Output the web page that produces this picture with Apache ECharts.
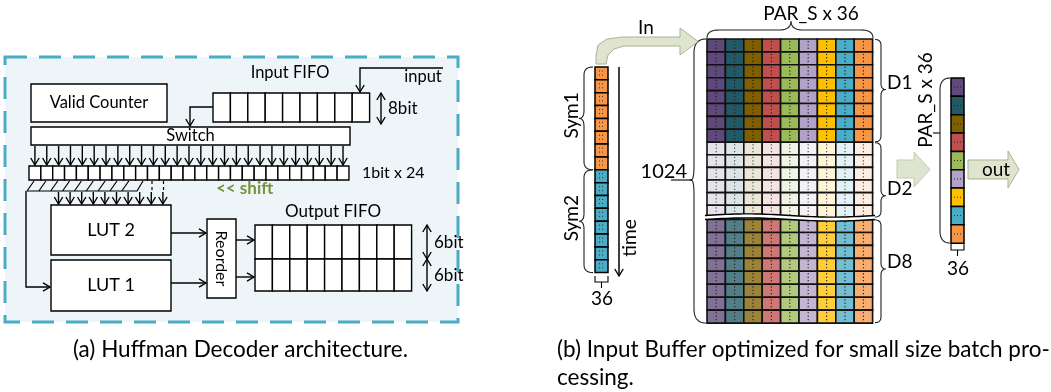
<!DOCTYPE html>
<html><head><meta charset="utf-8">
<script src="https://cdn.jsdelivr.net/npm/echarts@6/dist/echarts.min.js"></script>
<style>html,body{margin:0;padding:0;background:#fff}#main{width:1051px;height:392px}</style>
</head><body><div id="main"></div>
<script>
// ================= DATA =================
const blockNames = ['Valid Counter', 'Switch', 'LUT 2', 'LUT 1', 'Reorder'];
const inputFifoSlots = 9;
const registerBits = 27;          // cells drawn in the "1bit x 24" shift register
const lutFeedBits = 10;
const outputFifoRows = ['6bit', '6bit'];
const outputFifoSlots = 9;
const leftLabels = ['Input FIFO', 'input', '8bit', '1bit x 24', '<< shift', 'Output FIFO'];
const lanes = [0, 1, 2, 3, 4, 5, 6, 7, 8];       // PAR_S x 36 lanes
const sectionNames = ['D1', 'D2', 'D8'];
const sectionRows = [8, 6, 8];
const symNames = ['Sym1', 'Sym2'];
const symRows = [8, 8];
const bufferDepth = '1024';
const laneWidthLabel = 'PAR_S x 36';
const bitsLabel = '36';
const flowLabels = ['In', 'out', 'time'];
const captions = ['(a) Huffman Decoder architecture.', '(b) Input Buffer optimized for small size batch pro-', 'cessing.'];

// ================= STYLE / LAYOUT =================
const laneColors = ['#5f497a', '#215967', '#7f6000', '#c0504d', '#9bbb59', '#b3a2c7', '#ffc000', '#4bacc6', '#f79646'];
const symColors = ['#f79646', '#4bacc6'];
const sectionTone = [1, 0.16, 0.78];
const FONT = 'Lato, "Open Sans", sans-serif';
const CAPFONT = 'Lato, "Open Sans", sans-serif';

let API = null;
const C = (x, y) => API.coord([x, y]);
function R(x, y, w, h, st) { const a = C(x, y), b = C(x + w, y + h); return { type: 'rect', shape: { x: a[0], y: a[1], width: b[0] - a[0], height: b[1] - a[1] }, style: Object.assign({ fill: '#fff', stroke: '#000', lineWidth: 1.4 }, st) }; }
function L(pts, st) { return { type: 'polyline', shape: { points: pts.map(p => C(p[0], p[1])) }, style: Object.assign({ fill: null, stroke: '#000', lineWidth: 1.4 }, st) }; }
function PG(pts, st) { return { type: 'polygon', shape: { points: pts.map(p => C(p[0], p[1])) }, style: st }; }
function T(x, y, text, st, rot) { const a = C(x, y); return { type: 'text', x: a[0], y: a[1], rotation: rot || 0, style: Object.assign({ text, fill: '#000', font: '16px ' + FONT, textAlign: 'center', textVerticalAlign: 'middle', align: 'center', verticalAlign: 'middle' }, st) }; }
function head(x, y, dx, dy, s) { const l = s || 7, w = l * 0.6, px = -dy, py = dx; return L([[x - dx * l + px * w, y - dy * l + py * w], [x, y], [x - dx * l - px * w, y - dy * l - py * w]]); }
function arrow(pts, st) { const n = pts.length; const [x2, y2] = pts[n - 1], [x1, y1] = pts[n - 2]; const d = Math.hypot(x2 - x1, y2 - y1); return [L(pts, st), head(x2, y2, (x2 - x1) / d, (y2 - y1) / d)]; }
function dbl(x, y1, y2) { return [L([[x, y1], [x, y2]]), head(x, y1, 0, -1), head(x, y2, 0, 1)]; }
function mix(hex, a) { const n = parseInt(hex.slice(1), 16); const r = n >> 16, g = (n >> 8) & 255, b = n & 255; const f = v => Math.round(v * a + 255 * (1 - a)); return 'rgb(' + f(r) + ',' + f(g) + ',' + f(b) + ')'; }
function brace(ax, ay, bx, by, nx, ny, d, r, t, tip) {
  const Lg = Math.hypot(bx - ax, by - ay), ux = (bx - ax) / Lg, uy = (by - ay) / Lg, m = tip == null ? Lg / 2 : tip;
  const segs = [[[0, 0], [0, d], [r, d]], [[r, d], [r, d], [m - r, d]], [[m - r, d], [m, d], [m, d + t]], [[m, d + t], [m, d], [m + r, d]], [[m + r, d], [m + r, d], [Lg - r, d]], [[Lg - r, d], [Lg, d], [Lg, 0]]];
  const pts = [];
  segs.forEach(([p0, p1, p2]) => { for (let k = 0; k <= 10; k++) { const s = k / 10, a = (1 - s) * (1 - s), b = 2 * s * (1 - s), c = s * s; const S = a * p0[0] + b * p1[0] + c * p2[0], O = a * p0[1] + b * p1[1] + c * p2[1]; pts.push([ax + ux * S + nx * O, ay + uy * S + ny * O]); } });
  return L(pts, { lineWidth: 1.1, stroke: '#222' });
}
function series(name, n, draw) {
  return { type: 'custom', name, coordinateSystem: 'cartesian2d', clip: false, silent: true, animation: false,
    data: Array.from({ length: n }, (_, i) => [i, 0]),
    renderItem: (params, api) => { API = api; const g = draw(params.dataIndex); return { type: 'group', children: [].concat(g) }; } };
}

// layout of the left panel blocks
const blockBox = { 'Valid Counter': [31, 84, 136, 38], 'Switch': [31, 127, 319, 18], 'LUT 2': [51, 205, 120, 50], 'LUT 1': [51, 260, 120, 51], 'Reorder': [207, 219, 29, 79] };
const REG = { x: 29, y: 166, w: 11.85, h: 14 };
const FIFO = { x: 213, y: 93, w: 17.4, h: 29 };
const OFIFO = { x: 255, y: [225, 259], h: [34, 32], w: 17.4 };
const GRID = { x: 707, w: 18.4, y: [39, 142.2, 219.5], h: [12.9, 12.6, 12.95] };
const SYM = { x: 595, w: 13, y: 67, h: 12.85 };
const OUT = { x: 951, w: 13, y: 78, h: 18.35 };

const S = [];
// ---------- (a) panel background ----------
S.push(series('panel', 1, () => R(5, 57, 453, 265, { fill: '#edf5f9', stroke: '#4bacc6', lineWidth: 3, lineDash: [22, 12] })));
// blocks
S.push(series('blocks', blockNames.length, i => {
  const nm = blockNames[i], b = blockBox[nm];
  const out = [R(b[0], b[1], b[2], b[3])];
  if (nm === 'Reorder') out.push(T(b[0] + b[2] / 2, b[1] + b[3] / 2, nm, { font: '16px ' + FONT }, -Math.PI / 2));
  else out.push(T(b[0] + b[2] / 2, b[1] + b[3] / 2, nm, { font: (nm.startsWith('LUT') ? '18px ' : '16.5px ') + FONT }));
  return out;
}));
// input FIFO
S.push(series('inputFifo', inputFifoSlots, i => R(FIFO.x + i * FIFO.w, FIFO.y, FIFO.w, FIFO.h)));
// shift register + switch outputs
S.push(series('register', registerBits, i => {
  const x = REG.x + i * REG.w, cx = x + REG.w / 2;
  return [R(x, REG.y, REG.w, REG.h), ...arrow([[cx, 146], [cx, REG.y - 1]])];
}));
// LUT feeds (hatched shifting window)
S.push(series('lutFeed', lutFeedBits, i => {
  const cx = 58.5 + i * 11.6, out = [...arrow([[cx, 192], [cx, 204]])];
  if (i < 9) out.push(L([[27 + i * 11.85, 191], [34 + i * 11.85, 181]], { lineWidth: 1.2 }));
  if (i >= 8) out.push(L([[152 + (i - 8) * 11.5, 181], [152 + (i - 8) * 11.5, 192]], { lineDash: [3, 3], lineWidth: 1.2 }));
  return out;
}));
// output FIFO
S.push(series('outputFifo', outputFifoRows.length * outputFifoSlots, i => {
  const r = Math.floor(i / outputFifoSlots), c = i % outputFifoSlots;
  const out = [R(OFIFO.x + c * OFIFO.w, OFIFO.y[r], OFIFO.w, OFIFO.h[r])];
  if (c === 0) { out.push(...dbl(427, OFIFO.y[r], OFIFO.y[r] + OFIFO.h[r])); out.push(T(434, OFIFO.y[r] + OFIFO.h[r] / 2 + 1, outputFifoRows[r], { textAlign: 'left', align: 'left', font: '17px ' + FONT })); }
  return out;
}));
// wiring and labels
S.push(series('wiring', 1, () => [
  ...arrow([[443, 68], [360, 68], [360, 92]]),
  ...arrow([[213, 107], [190, 107], [190, 126]]),
  ...dbl(381, 93, 124),
  L([[27, 191], [137, 191], [143, 181]], { lineWidth: 1.2 }),
  ...arrow([[26, 191], [26, 287], [50, 287]]),
  ...arrow([[171, 233], [206, 233]]), ...arrow([[171, 283], [206, 283]]),
  ...arrow([[236, 240], [254, 240]]), ...arrow([[236, 277], [254, 277]]),
  T(290, 73, leftLabels[0], { font: '16.5px ' + FONT }), T(423, 77, leftLabels[1], { font: '16.5px ' + FONT }),
  T(388, 109, leftLabels[2], { textAlign: 'left', align: 'left', font: '17px ' + FONT }),
  T(362, 173, leftLabels[3], { textAlign: 'left', align: 'left', font: '16px ' + FONT }),
  T(216, 189, leftLabels[4], { textAlign: 'left', align: 'left', fill: '#77933c', font: 'bold 17px ' + FONT }),
  T(333, 212, leftLabels[5], { font: '17px ' + FONT })
]));

// ---------- (b) input buffer ----------
const cells = [];
sectionRows.forEach((n, s) => { for (let r = 0; r < n; r++) lanes.forEach(l => cells.push([s, r, l])); });
S.push(series('buffer', cells.length, i => {
  const [s, r, l] = cells[i], x = GRID.x + l * GRID.w, y = GRID.y[s] + r * GRID.h[s];
  const col = mix(laneColors[l], sectionTone[s]);
  return [R(x, y, GRID.w, GRID.h[s], { fill: col, lineWidth: 1.6, stroke: '#111' }),
    L([[x + GRID.w / 2, y + 2], [x + GRID.w / 2, y + GRID.h[s] - 1]], { lineDash: [1.2, 2.2], lineWidth: 1.2, stroke: s === 1 ? '#555' : '#222' })];
}));
// wave cut between D2 and D8
S.push(series('wave', 1, () => {
  const top = [], bot = [];
  for (let k = 0; k <= 40; k++) { const x = 705 + k * 170 / 40; const w = 1.6 * Math.sin((x - 705) / 170 * 2 * Math.PI); top.push([x, 215.5 - w]); bot.push([x, 219.5 - w]); }
  return [PG(top.concat(bot.slice().reverse()), { fill: '#fff' }), L(top, { lineWidth: 1.4 }), L(bot, { lineWidth: 1.4 })];
}));
// sym column
const symCells = [];
symRows.forEach((n, s) => { for (let r = 0; r < n; r++) symCells.push(s); });
S.push(series('sym', symCells.length, i => {
  const y = SYM.y + i * SYM.h;
  return [R(SYM.x, y, SYM.w, SYM.h, { fill: symColors[symCells[i]], lineWidth: 1.5 }),
    L([[SYM.x + 4, y + 4], [SYM.x + 10, y + 4]], { lineDash: [1, 2], lineWidth: 1, stroke: '#333' }),
    L([[SYM.x + 4, y + 8], [SYM.x + 10, y + 8]], { lineDash: [1, 2], lineWidth: 1, stroke: '#333' })];
}));
S.push(series('symBraces', symNames.length, s => {
  const y0 = SYM.y + (s === 0 ? 0 : symRows[0]) * SYM.h, y1 = y0 + symRows[s] * SYM.h;
  return [brace(593, y0, 593, y1, -1, 0, 9, 8, 5), T(572, (y0 + y1) / 2 - 3, symNames[s], { font: '19px ' + FONT }, Math.PI / 2)];
}));
// out column
S.push(series('outCol', lanes.length, i => {
  const y = OUT.y + i * OUT.h;
  return [R(OUT.x, y, OUT.w, OUT.h, { fill: laneColors[lanes[i]], lineWidth: 1.5 }),
    L([[OUT.x + 3, y + OUT.h / 2], [OUT.x + 11, y + OUT.h / 2]], { lineDash: [1, 2], lineWidth: 1, stroke: '#222' })];
}));
// section braces
S.push(series('sections', sectionNames.length, s => {
  const y0 = GRID.y[s], y1 = s === 1 ? 217.5 : GRID.y[s] + sectionRows[s] * GRID.h[s];
  const tip = [50, 53, 49][s];
  return [brace(875, y0 + 0.5, 875, y1 - 0.5, 1, 0, 6, 6, 5, tip), T(887, y0 + tip - 6.5, sectionNames[s], { textAlign: 'left', align: 'left', font: '19px ' + FONT })];
}));
// annotations
S.push(series('annot', 1, () => [
  brace(707, 38, 873, 38, 0, -1, 8, 12, 9, 84),
  T(811, 14, laneWidthLabel, { font: '19px ' + FONT }),
  brace(706, 39, 706, 323, -1, 0, 12, 14, 3, 141),
  L([[671, 180], [692, 180]], { lineWidth: 1.1 }),
  T(687, 172, bufferDepth, { textAlign: 'right', align: 'right', font: '20px ' + FONT }),
  ...arrow([[619, 67], [619, 276]], { lineWidth: 1.5 }),
  T(630, 238, flowLabels[2], { font: '19px ' + FONT }, Math.PI / 2),
  L([[595, 276], [595, 282], [608, 282], [608, 276]], { lineWidth: 1.1 }), L([[601.5, 282], [601.5, 288]], { lineWidth: 1.1 }),
  T(602, 299, bitsLabel, { font: '19px ' + FONT }),
  L([[951, 244], [951, 250], [964, 250], [964, 244]], { lineWidth: 1.1 }), L([[957.5, 250], [957.5, 256]], { lineWidth: 1.1 }),
  T(958, 269, bitsLabel, { font: '19px ' + FONT }),
  brace(950, 78, 950, 243, -1, 0, 10, 12, 0),
  L([[940, 133], [933, 133]], { lineWidth: 1.1 }),
  T(926, 100, laneWidthLabel, { font: '19px ' + FONT }, Math.PI / 2),
  PG([[596, 64], [596, 56], [598, 45], [607, 39], [622, 37], [680, 37], [680, 28], [698, 41.5], [680, 55], [680, 46], [624, 46], [614, 49], [608, 55], [606, 64]], { fill: '#dfe4cf', stroke: '#aab293', lineWidth: 1 }),
  T(646, 28, flowLabels[0], { font: '19px ' + FONT }),
  PG([[897, 160], [914, 160], [914, 152], [930, 169.5], [914, 187], [914, 178], [897, 178]], { fill: '#dfe4cf', stroke: '#c4c9b4', lineWidth: 1 }),
  PG([[968, 160], [1008, 160], [1008, 151], [1019, 169.5], [1008, 188], [1008, 179], [968, 179]], { fill: '#dfe4cf', stroke: '#aab293', lineWidth: 1 }),
  T(996, 170, flowLabels[1], { font: '19px ' + FONT })
]));
// captions
S.push(series('captions', captions.length, i => {
  const pos = [[73, 350], [557, 350], [557, 378]][i];
  return T(pos[0], pos[1], captions[i], { textAlign: 'left', align: 'left', font: '22.5px ' + CAPFONT });
}));

const chart = echarts.init(document.getElementById('main'));
chart.setOption({
  animation: false,
  grid: { left: 0, right: 0, top: 0, bottom: 0 },
  xAxis: { type: 'value', min: 0, max: 1051, show: false },
  yAxis: { type: 'value', min: 0, max: 392, inverse: true, show: false },
  series: S
});
</script></body></html>
